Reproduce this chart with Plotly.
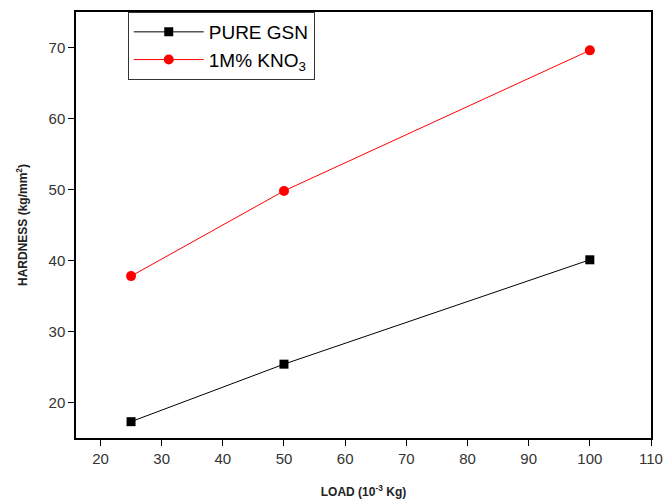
import plotly.graph_objects as go

load = [25, 50, 100]
pure_gsn = [17.3, 25.4, 40.1]
kno3 = [37.8, 49.8, 69.6]
x_ticks = [20, 30, 40, 50, 60, 70, 80, 90, 100, 110]
y_ticks = [20, 30, 40, 50, 60, 70]

fig = go.Figure()
fig.add_trace(go.Scatter(x=load, y=pure_gsn, mode="lines+markers", name="PURE GSN",
                         line=dict(color="black", width=1),
                         marker=dict(symbol="square", size=9, color="black")))
fig.add_trace(go.Scatter(x=load, y=kno3, mode="lines+markers", name="1M% KNO<sub>3</sub>",
                         line=dict(color="#ff0000", width=1),
                         marker=dict(symbol="circle", size=10, color="#ff0000")))

axis_common = dict(showline=True, linecolor="black", linewidth=1.5, mirror=True,
                   ticks="outside", ticklen=6, tickcolor="black", showgrid=False,
                   zeroline=False, automargin=False,
                   tickfont=dict(family="Liberation Sans, Arial", size=15, color="#333"))

fig.update_xaxes(range=[16, 110], tickvals=x_ticks,
                 title=dict(text="<b>LOAD (10<sup>-3</sup> Kg)</b>",
                            font=dict(family="Liberation Sans, Arial", size=12, color="#222"), standoff=22),
                 **axis_common)
fig.update_yaxes(range=[15, 75], tickvals=y_ticks,
                 title=dict(text="<b>HARDNESS (kg/mm<sup>2</sup>)</b>",
                            font=dict(family="Liberation Sans, Arial", size=12, color="#222"), standoff=18),
                 **axis_common)

fig.update_layout(
    width=665, height=500,
    margin=dict(l=76, r=14, t=12, b=62),
    plot_bgcolor="white", paper_bgcolor="white",
    showlegend=True,
    legend=dict(x=0.09, y=1.0, xanchor="left", yanchor="top",
                bordercolor="#333", borderwidth=1, bgcolor="white",
                font=dict(family="Liberation Sans, Arial", size=19, color="black"),
                tracegroupgap=0, itemwidth=70),
)

fig.write_html("out.html")
